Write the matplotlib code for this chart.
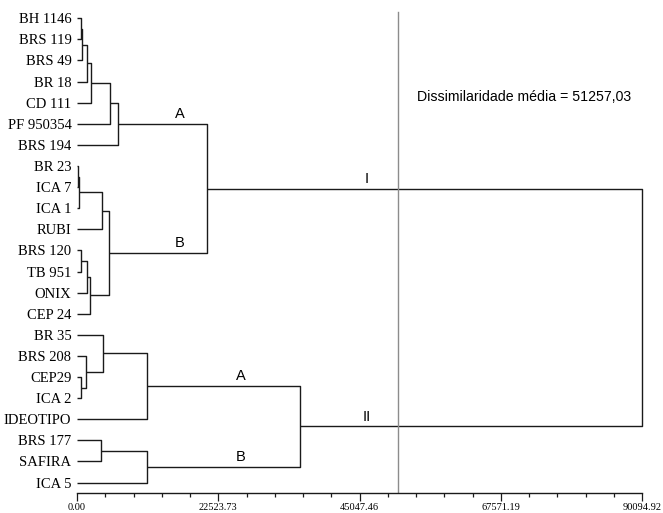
import numpy as np
import matplotlib
matplotlib.use('Agg')
import matplotlib.pyplot as plt
from matplotlib.ticker import AutoMinorLocator

# leaves, top to bottom
leaves = ['BH 1146', 'BRS 119', 'BRS 49', 'BR 18', 'CD 111', 'PF 950354', 'BRS 194',
          'BR 23', 'ICA 7', 'ICA 1', 'RUBI', 'BRS 120', 'TB 951', 'ONIX', 'CEP 24',
          'BR 35', 'BRS 208', 'CEP29', 'ICA 2', 'IDEOTIPO', 'BRS 177', 'SAFIRA', 'ICA 5']

# merges (scipy style: new node ids start at len(leaves))
merge_a = [0, 23, 24, 25, 26, 27, 7, 29, 30, 11, 32, 33, 31, 28, 17, 16, 15, 39, 20, 41, 40, 36]
merge_b = [1, 2, 3, 4, 5, 6, 8, 9, 10, 12, 13, 14, 34, 35, 18, 37, 38, 19, 21, 22, 42, 43]
merge_h = [590, 850, 1640, 2190, 5260, 6590, 110, 320, 4040, 590, 1550, 2070, 5100, 20690,
           590, 1440, 4190, 11210, 3780, 11210, 35570, 90094.92]

# group labels
group_names = ['A', 'B', 'I', 'A', 'B', 'II']
group_nodes = [28, 35, 36, 40, 42, 43]
group_x = [16400, 16300, 46200, 26100, 26100, 46200]

tick_vals = [0.00, 22523.73, 45047.46, 67571.19, 90094.92]
mean_dissim = 51257.03

fig = plt.figure(figsize=(6.63, 5.13), dpi=100)
ax = fig.add_axes([77 / 663, 1 - 493 / 513, (642 - 77) / 663, (493 - 10) / 513])

n = len(leaves)
node_y = {i: float(i) for i in range(n)}
node_x = {i: 0.0 for i in range(n)}
line_kw = dict(color='#1a1a1a', lw=1.0, clip_on=False, solid_capstyle='butt')
for k, (a, b, h) in enumerate(zip(merge_a, merge_b, merge_h)):
    ya, yb = node_y[a], node_y[b]
    ax.plot([node_x[a], h, h, node_x[b]], [ya, ya, yb, yb], **line_kw)
    node_y[n + k] = (ya + yb) / 2
    node_x[n + k] = h

for name, node, gx in zip(group_names, group_nodes, group_x):
    ax.annotate(name, (gx, node_y[node]), xytext=(0, 2), textcoords='offset points',
                ha='center', va='bottom', fontsize=10.5, family='Liberation Sans')

ax.axvline(mean_dissim, ymin=0, ymax=1 - 2 / 483, color='#8c8c8c', lw=1.0)
ax.text(54180, 3.72, 'Dissimilaridade média = 51257,03', ha='left', va='center',
        fontsize=10.2, family='Liberation Sans')

ax.set_xlim(0, 90094.92)
ax.set_ylim(22.497, -0.393)
for s in ['top', 'right', 'left']:
    ax.spines[s].set_visible(False)
ax.spines['bottom'].set_bounds(0, 90094.92)
ax.spines['bottom'].set_linewidth(1.0)
ax.spines['bottom'].set_color('#1a1a1a')

ax.set_xticks(tick_vals, ['%.2f' % v for v in tick_vals])
ax.xaxis.set_minor_locator(AutoMinorLocator(5))
ax.tick_params(axis='x', which='major', length=6, width=0.9, pad=1.5, labelsize=7.5,
               color='#1a1a1a')
ax.tick_params(axis='x', which='minor', length=3, width=0.9, color='#1a1a1a')
for t in ax.get_xticklabels():
    t.set_family('Liberation Serif')

ax.set_yticks(range(n), leaves)
ax.tick_params(axis='y', length=0, pad=4, labelsize=10.5)
for t in ax.get_yticklabels():
    t.set_family('Liberation Serif')

fig.savefig('out.png', dpi=100)
